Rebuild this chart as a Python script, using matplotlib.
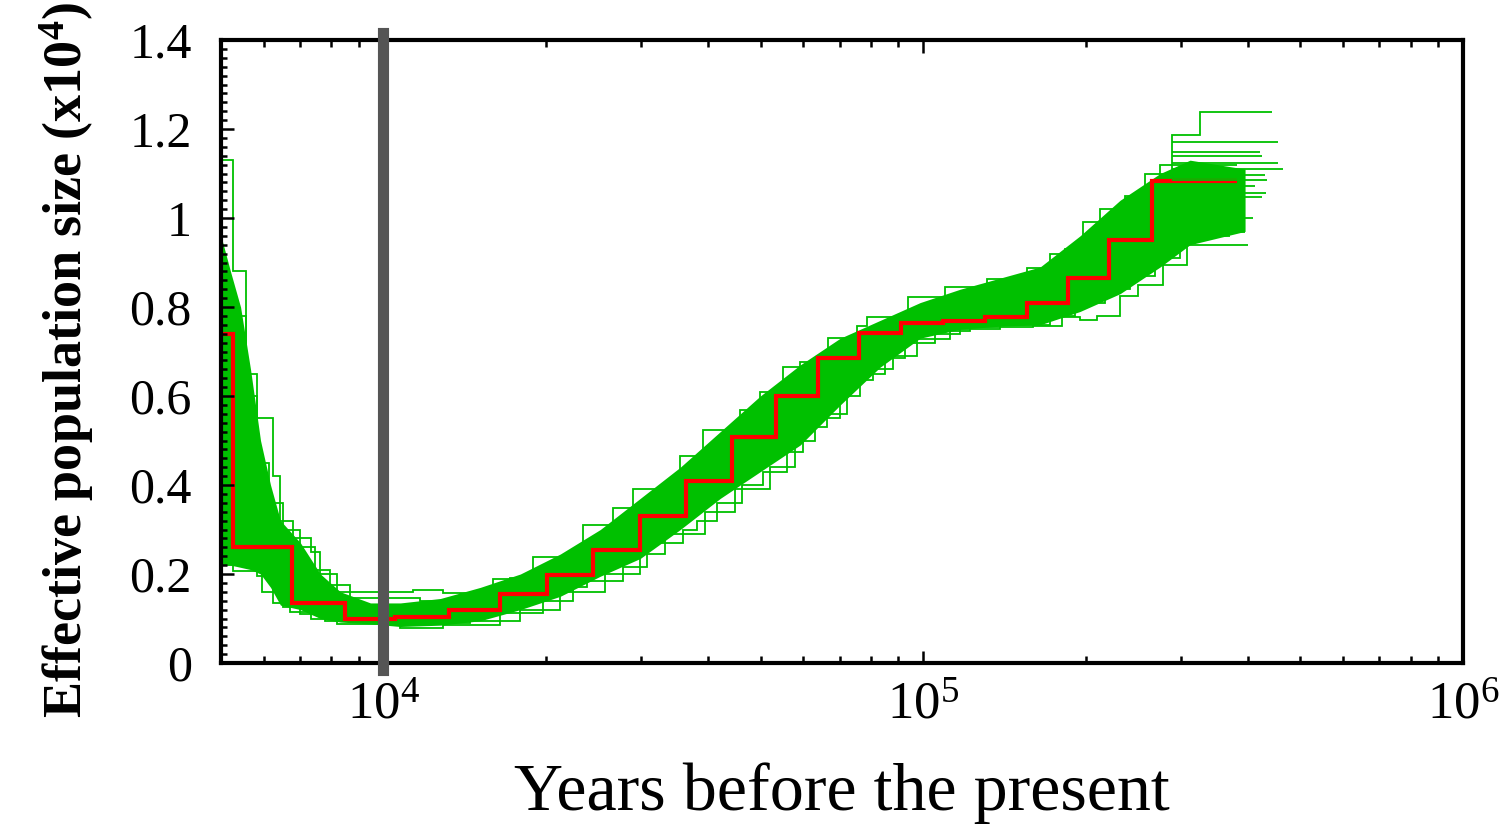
import matplotlib
matplotlib.use('Agg')
import matplotlib.pyplot as plt
from matplotlib.ticker import FixedLocator, FixedFormatter, LogLocator, MultipleLocator, NullFormatter

plt.rcParams['font.family'] = ['Liberation Serif', 'DejaVu Serif']
plt.rcParams['mathtext.fontset'] = 'custom'
plt.rcParams['mathtext.rm'] = 'Liberation Serif'
plt.rcParams['mathtext.it'] = 'Liberation Serif:italic'
plt.rcParams['mathtext.bf'] = 'Liberation Serif:bold'

# PSMC estimate (red), years / Ne in units of 1e4
psmc_t = [4000, 5253, 6785, 8502, 10525, 13250, 16470, 20125, 24480, 29920, 36400, 44300,
          53430, 63900, 76120, 91060, 108900, 130200, 155800, 185600, 221000, 265600, 381500]
psmc_n = [0.74, 0.26, 0.135, 0.098, 0.104, 0.12, 0.155, 0.198, 0.255, 0.33, 0.41,
          0.507, 0.60, 0.685, 0.741, 0.764, 0.768, 0.778, 0.809, 0.865, 0.95, 1.083]

# dense part of the bootstrap cloud (green), lower / upper edge
band_t = [4900, 5208, 5437, 5673, 5920, 6178, 6446, 7019, 7643, 8324, 9461, 10752, 12752,
          15121, 17934, 21272, 25225, 29918, 35481, 42087, 49910, 59196, 70212, 83258,
          98729, 117100, 138900, 164700, 195300, 231700, 274800, 312200, 394800]
band_lo = [0.22, 0.22, 0.215, 0.21, 0.20, 0.17, 0.13, 0.12, 0.10, 0.092, 0.088, 0.082, 0.085,
           0.095, 0.12, 0.15, 0.195, 0.235, 0.30, 0.37, 0.43, 0.49, 0.58, 0.665, 0.73, 0.75,
           0.757, 0.76, 0.79, 0.83, 0.89, 0.94, 0.97]
band_hi = [1.0, 0.88, 0.80, 0.66, 0.50, 0.40, 0.32, 0.27, 0.20, 0.16, 0.135, 0.135, 0.145,
           0.17, 0.20, 0.245, 0.30, 0.37, 0.44, 0.52, 0.60, 0.67, 0.73, 0.77, 0.81, 0.84,
           0.865, 0.89, 0.96, 1.04, 1.10, 1.13, 1.11]

# outer bootstrap lines
upper_t = [4000, 5275, 5553, 5843, 6256, 6446, 6813, 7356, 7643, 8219, 11365, 12915, 15986,
           18957, 23466, 26665, 29039, 35481, 39136, 45822, 49910, 55066, 59196, 66697,
           75466, 78753, 93807, 109854, 131384, 155803, 171886, 197850, 212750, 257700,
           289100, 325800, 443000]
upper_n = [1.13, 0.88, 0.65, 0.55, 0.42, 0.32, 0.28, 0.25, 0.20, 0.16, 0.165, 0.157, 0.188,
           0.238, 0.31, 0.348, 0.39, 0.465, 0.523, 0.568, 0.609, 0.665, 0.676, 0.73, 0.757,
           0.778, 0.823, 0.845, 0.863, 0.888, 0.92, 0.99, 1.02, 1.10, 1.187, 1.238]
upper2_t = [5275, 5553, 5843, 6125, 6529, 7019, 7483, 7978, 8689, 11710, 13885, 17190, 20385,
            25225, 31220, 37020, 42087, 47820, 56730, 64470, 73260, 86880, 103030, 122200,
            144950, 168250, 183300, 203850, 236650, 274800, 381500]
upper2_n = [0.78, 0.60, 0.45, 0.36, 0.30, 0.26, 0.21, 0.175, 0.145, 0.14, 0.155, 0.19, 0.225,
            0.285, 0.35, 0.42, 0.485, 0.55, 0.62, 0.69, 0.735, 0.77, 0.80, 0.825, 0.85, 0.875,
            0.93, 0.97, 1.05, 1.12]
lower_t = [4000, 5275, 5820, 6256, 6727, 7356, 8219, 10752, 12915, 16470, 19786, 22486, 23870,
           27826, 30831, 35938, 38150, 41543, 46215, 50553, 56012, 59958, 66413, 72316, 80795,
           87992, 97474, 112202, 122200, 159840, 180910, 195335, 210000, 231700, 250100,
           278300, 308300, 399900]
lower_n = [0.22, 0.207, 0.195, 0.135, 0.115, 0.10, 0.088, 0.079, 0.085, 0.113, 0.14, 0.17,
           0.185, 0.215, 0.27, 0.30, 0.32, 0.36, 0.40, 0.43, 0.475, 0.53, 0.56, 0.635, 0.66,
           0.69, 0.728, 0.745, 0.755, 0.758, 0.777, 0.77, 0.78, 0.825, 0.85, 0.895, 0.94]
lower2_t = [4000, 5437, 5970, 6502, 7019, 7809, 9873, 14496, 17934, 21272, 25770, 29918, 33280,
            39480, 44850, 52106, 57950, 63096, 70212, 76420, 85050, 92620, 105250, 117100,
            138900, 171886, 191200, 217300, 241700, 268900, 299200, 370200]
lower2_n = [0.25, 0.22, 0.16, 0.125, 0.11, 0.095, 0.09, 0.095, 0.12, 0.16, 0.20, 0.245, 0.29,
            0.34, 0.39, 0.44, 0.50, 0.55, 0.60, 0.65, 0.685, 0.72, 0.74, 0.75, 0.76, 0.78,
            0.81, 0.84, 0.87, 0.91, 0.96]

# ends of the oldest bootstrap intervals
tail_start = 289100
tail_n = [1.171, 1.148, 1.139, 1.124, 1.110, 1.097, 1.085, 1.072, 1.056, 1.047, 1.025, 1.004,
          1.0, 0.984, 0.969]
tail_end = [454500, 420800, 424400, 454500, 464200, 429900, 433600, 412000, 431800, 424400,
            389600, 381500, 408500, 381500, 394800]

yticks = [0, 0.2, 0.4, 0.6, 0.8, 1.0, 1.2, 1.4]
ytick_labels = ['0', '0.2', '0.4', '0.6', '0.8', '1', '1.2', '1.4']

green = '#00c000'

fig = plt.figure(figsize=(15.06, 8.27), dpi=100)
ax = fig.add_axes([0.1467, 0.1983, 0.8247, 0.7533])

ax.fill_between(band_t, band_lo, band_hi, color=green, lw=0)
for t, n in [(upper_t, upper_n), (upper2_t, upper2_n), (lower_t, lower_n), (lower2_t, lower2_n)]:
    ax.stairs(n, t, baseline=None, color=green, lw=1.3)
ax.hlines(tail_n, tail_start, tail_end, color=green, lw=1.3)
ax.stairs(psmc_n, psmc_t, baseline=None, color='red', lw=3)
ax.axvline(1e4, ymin=-0.012, ymax=1.012, color='#555555', lw=8, clip_on=False, zorder=5)

ax.set_xscale('log')
ax.set_xlim(5000, 1e6)
ax.set_ylim(0, 1.4)

ax.xaxis.set_major_locator(LogLocator(base=10, numticks=10))
ax.xaxis.set_minor_locator(LogLocator(base=10, subs=range(2, 10), numticks=20))
ax.xaxis.set_minor_formatter(NullFormatter())
ax.yaxis.set_major_locator(FixedLocator(yticks))
ax.yaxis.set_major_formatter(FixedFormatter(ytick_labels))
ax.yaxis.set_minor_locator(MultipleLocator(0.02))

ax.tick_params(axis='x', which='both', direction='in', top=True, bottom=True, width=1.8)
ax.tick_params(axis='x', which='major', length=9, pad=14, labelsize=38)
ax.tick_params(axis='x', which='minor', length=5)
ax.tick_params(axis='y', which='both', direction='in', left=True, right=False, width=1.8)
ax.tick_params(axis='y', which='major', length=9, pad=21, labelsize=36)
ax.tick_params(axis='y', which='minor', length=4.5)

for s in ax.spines.values():
    s.set_linewidth(3)

ax.set_xlabel('Years before the present', fontsize=49)
ax.xaxis.set_label_coords(0.5, -0.16)
ax.set_ylabel(r'Effective population size (x10$^{\mathbf{4}}$)', fontsize=39,
              fontweight='bold', va='center')
ax.yaxis.set_label_coords(-0.124, 0.486)

fig.savefig('out.png', dpi=100)
